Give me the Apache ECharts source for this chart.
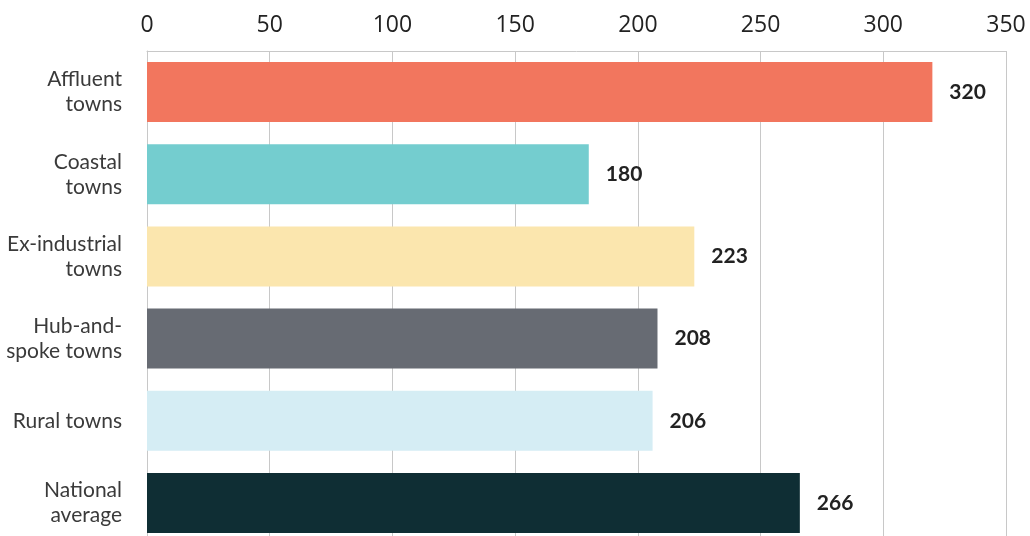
<!DOCTYPE html>
<html>
<head>
<meta charset="utf-8">
<script src="https://cdn.jsdelivr.net/npm/echarts@6/dist/echarts.min.js"></script>
<style>
  html, body { margin: 0; padding: 0; background: #fff; }
  #chart { width: 1030px; height: 536px; }
</style>
</head>
<body>
<div id="chart"></div>
<script>
// Town categories, top to bottom
const categories = [
  'Affluent\ntowns',
  'Coastal\ntowns',
  'Ex-industrial\ntowns',
  'Hub-and-\nspoke towns',
  'Rural towns',
  'National\naverage'
];
const values = [320, 180, 223, 208, 206, 266];
const barColors = ['#F2765E', '#74CDCF', '#FBE6AE', '#676B73', '#D5EDF4', '#0F2E34'];
const xTicks = [0, 50, 100, 150, 200, 250, 300, 350];

const chart = echarts.init(document.getElementById('chart'), null, { renderer: 'canvas' });

chart.setOption({
  animation: false,
  // the last band runs a little past the bottom edge of the canvas
  grid: {
    left: 147, right: 24, top: 51, height: 493,
    containLabel: false,
    outerBoundsMode: 'none'
  },
  xAxis: {
    type: 'value',
    position: 'top',
    min: xTicks[0],
    max: xTicks[xTicks.length - 1],
    interval: 50,
    axisLine: { show: true, lineStyle: { color: '#c8c8c8', width: 1 } },
    axisTick: { show: false },
    splitLine: { show: true, lineStyle: { color: '#c8c8c8', width: 1 } },
    axisLabel: {
      margin: 14,
      color: '#222',
      fontFamily: 'Open Sans',
      fontSize: 23
    }
  },
  yAxis: {
    type: 'category',
    inverse: true,
    data: categories,
    axisLine: { show: true, lineStyle: { color: '#c8c8c8', width: 1 } },
    axisTick: { show: false },
    axisLabel: {
      margin: 25,
      color: '#3a3a3a',
      fontFamily: 'Lato',
      fontSize: 21,
      lineHeight: 25,
      align: 'right'
    }
  },
  series: [{
    type: 'bar',
    data: values.map((v, i) => ({ value: v, itemStyle: { color: barColors[i] } })),
    barCategoryGap: '27%',
    label: {
      show: true,
      position: 'right',
      distance: 17,
      color: '#222',
      fontFamily: 'Lato',
      fontWeight: 'bold',
      fontSize: 21
    }
  }]
});
</script>
</body>
</html>
